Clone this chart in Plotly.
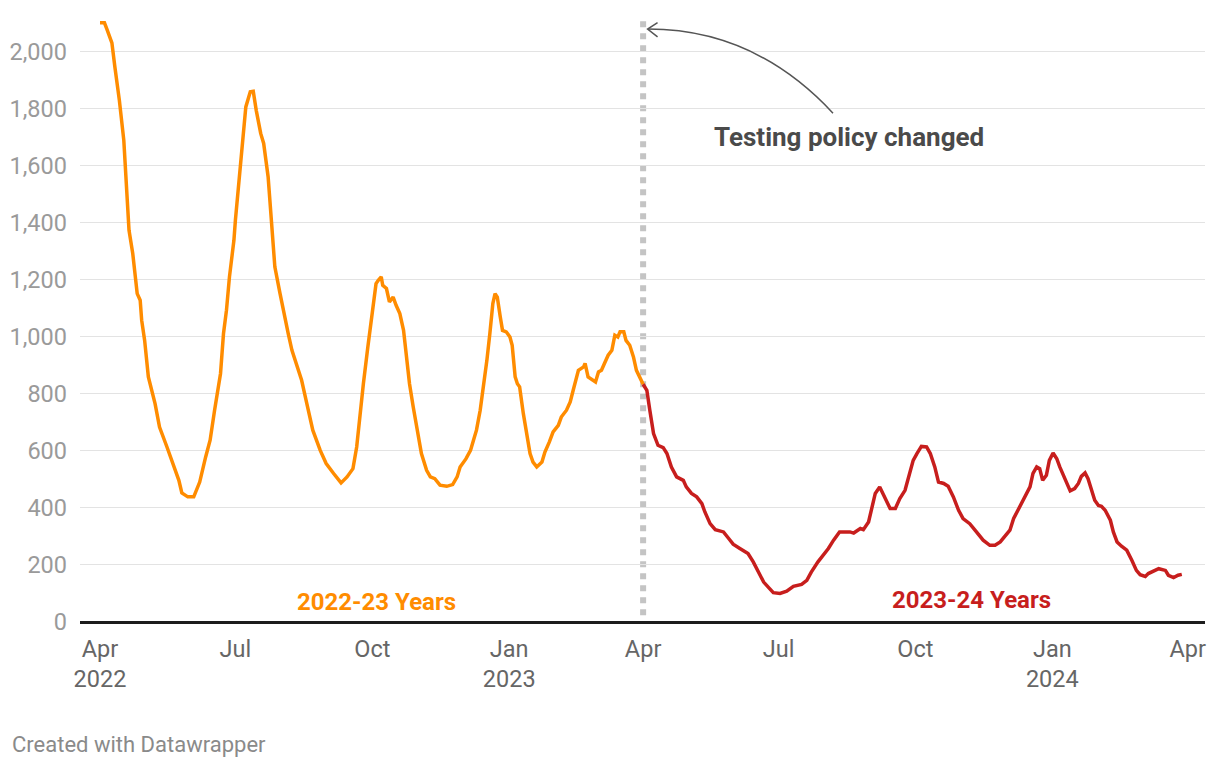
import pandas as pd
import plotly.graph_objects as go

START = pd.Timestamp("2022-04-01")

# Days since 2022-04-01 and values
days_2022_23 = [0, 3, 4.5, 8, 10, 13, 16, 18, 19.5, 22, 25, 27, 28, 30, 32.5, 37, 40, 45, 49, 53, 55, 59, 63,
                67, 71, 74, 77, 81, 83, 85, 87, 90, 91, 94, 96, 98, 101, 103, 105, 108, 110, 113, 115.5,
                117.5, 121, 124, 126.5, 129, 132, 135.5, 139, 143, 148, 152, 157, 162, 166, 170, 172.5,
                176, 177, 180, 182.5, 185.5, 187, 189, 190, 192.5, 194.5, 197, 199, 201.5, 204, 206, 208,
                210.5, 214, 216, 219.5, 222, 225, 228.5, 233, 237, 240, 242, 246, 249, 251, 253, 255.5,
                257.5, 260, 262, 264, 265.5, 267, 269, 270.5, 273, 275.5, 277, 279, 280.5, 282, 284.5, 287,
                289, 291, 293.5, 297, 299, 302, 304.5, 308, 310, 313.5, 316, 318, 321.5, 325, 326, 328, 333,
                335, 337, 339, 341.5, 344, 346, 348, 349.5, 352, 353.5, 356, 358.5, 360.5, 363, 365]
values_2022_23 = [2102, 2102, 2082, 2032, 1947, 1831, 1690, 1526, 1374, 1293, 1152, 1129, 1059, 988, 860, 766,
                  684, 614, 556, 497, 453, 439, 439, 491, 579, 638, 743, 872, 1012, 1094, 1211, 1339, 1410,
                  1573, 1714, 1807, 1860, 1862, 1795, 1714, 1679, 1561, 1386, 1246, 1152, 1070, 1012, 953,
                  907, 848, 766, 673, 602, 556, 521, 488, 509, 538, 614, 801, 836, 965, 1070, 1187, 1199,
                  1211, 1181, 1170, 1123, 1140, 1111, 1082, 1023, 918, 836, 754, 649, 591, 532, 509, 503,
                  480, 476, 482, 509, 544, 573, 602, 638, 673, 743, 813, 918, 1012, 1117, 1152, 1140, 1070,
                  1023, 1018, 1000, 971, 860, 836, 825, 731, 649, 591, 561, 544, 561, 596, 632, 667, 690,
                  719, 743, 772, 813, 883, 895, 907, 860, 842, 877, 883, 907, 936, 953, 1006, 1000, 1018,
                  1018, 988, 971, 930, 883, 854, 834]

days_2023_24 = [365, 367.5, 369.5, 372, 375, 378.5, 381, 384, 387.5, 392, 394, 397.5, 401, 404.5, 406.5, 410,
                413.5, 419, 422.5, 425.5, 430, 435.5, 439, 442.5, 446, 450, 452.5, 457, 461.5, 466, 471.5,
                475, 478, 482.5, 486, 489.5, 493, 497, 504, 506.5, 511, 513, 516.5, 518.5, 521, 524, 527.5,
                531, 534.5, 537.5, 541, 544.5, 546.5, 549, 552, 555.5, 558, 561, 563.5, 567, 570, 573.5,
                577, 580, 584.5, 589, 593.5, 598, 601.5, 605, 608, 611.5, 614, 617, 619.5, 623, 625, 627,
                629.5, 631.5, 633.5, 636, 638, 640.5, 643, 645, 647.5, 650, 652, 655, 657.5, 659.5, 662,
                664, 666.5, 668.5, 671, 673, 675.5, 679, 681, 683.5, 686.5, 690, 693.5, 696.5, 699, 702.5,
                704.5, 708, 711.5, 716, 718, 721.5, 724.5, 727]
values_2023_24 = [834, 813, 743, 661, 620, 612, 591, 544, 509, 497, 474, 451, 439, 415, 386, 345, 324, 316,
                  293, 273, 258, 240, 211, 175, 140, 117, 103, 100, 108, 125, 132, 146, 175, 211, 234, 258,
                  287, 316, 316, 312, 328, 324, 351, 392, 451, 474, 439, 398, 398, 433, 462, 532, 567, 591,
                  616, 614, 591, 544, 491, 486, 476, 439, 392, 363, 345, 316, 287, 269, 269, 281, 298, 322,
                  363, 392, 418, 456, 474, 521, 544, 538, 497, 515, 567, 593, 573, 544, 515, 480, 460, 468,
                  486, 511, 523, 503, 462, 427, 409, 406, 392, 357, 316, 281, 266, 252, 216, 181, 166, 160,
                  170, 179, 187, 181, 164, 156, 164, 167]

tick_dates = ["2022-04-01", "2022-07-01", "2022-10-01", "2023-01-01", "2023-04-01",
              "2023-07-01", "2023-10-01", "2024-01-01", "2024-04-01"]
tick_text = ["Apr<br>2022", "Jul", "Oct", "Jan<br>2023", "Apr", "Jul", "Oct", "Jan<br>2024", "Apr"]
y_ticks = [0, 200, 400, 600, 800, 1000, 1200, 1400, 1600, 1800, 2000]

POLICY_DATE = "2023-04-01"
ORANGE = "#ff8c00"
RED = "#c71e1d"


def to_dates(days):
    return START + pd.to_timedelta(pd.Series(days, dtype=float), unit="D")


def pstr(day):
    t = START + pd.to_timedelta(day, unit="D")
    return t.strftime("%Y-%m-%d_%H:%M:%S")


def dstr(day):
    return pstr(day).replace("_", " ")


fig = go.Figure()
fig.add_trace(go.Scatter(x=to_dates(days_2022_23), y=values_2022_23, mode="lines",
                         line=dict(color=ORANGE, width=3.5), hoverinfo="skip"))
fig.add_trace(go.Scatter(x=to_dates(days_2023_24), y=values_2023_24, mode="lines",
                         line=dict(color=RED, width=3.5), hoverinfo="skip"))

# vertical dotted line at testing policy change
fig.add_shape(type="line", xref="x", yref="y", x0=POLICY_DATE, x1=POLICY_DATE, y0=2108, y1=0,
              line=dict(color="#c4c4c4", width=6, dash="6px,6px"), layer="below")

# curved arrow
arrow_path = f"M {pstr(492.6)},1785 Q {pstr(440.2)},2080 {pstr(368.3)},2080"
fig.add_shape(type="path", xref="x", yref="y", path=arrow_path,
              line=dict(color="#555555", width=1.5))
head_path = f"M {pstr(374.7)},2103 L {pstr(368.0)},2080 L {pstr(374.7)},2053"
fig.add_shape(type="path", xref="x", yref="y", path=head_path,
              line=dict(color="#555555", width=1.5))

fig.add_annotation(x=dstr(503.4), y=1701, xref="x", yref="y",
                   text="<b>Testing policy changed</b>", showarrow=False,
                   font=dict(family="Roboto", size=26, color="#4a4a4a"))
fig.add_annotation(x=dstr(185.5), y=70, xref="x", yref="y",
                   text="<b>2022-23 Years</b>", showarrow=False,
                   font=dict(family="Roboto", size=24, color=ORANGE))
fig.add_annotation(x=dstr(586), y=76, xref="x", yref="y",
                   text="<b>2023-24 Years</b>", showarrow=False,
                   font=dict(family="Roboto", size=24, color=RED))
fig.add_annotation(x=-0.0622, y=-0.203, xref="paper", yref="paper", xanchor="left", yanchor="middle",
                   text="Created with Datawrapper", showarrow=False,
                   font=dict(family="Roboto", size=22, color="#8a8a8a"))

# page body has an 8px margin, so the figure is reduced and margins compensated
fig.update_layout(
    width=1212, height=760,
    margin=dict(l=72, r=15, t=10, b=146, autoexpand=False),
    plot_bgcolor="white", paper_bgcolor="white",
    showlegend=False,
    font=dict(family="Roboto"),
    xaxis=dict(
        type="date", automargin=False,
        range=[dstr(-13.44), dstr(742.6)],
        tickvals=tick_dates, ticktext=tick_text,
        showgrid=False, zeroline=False, showline=False, ticks="",
        ticklabelstandoff=10,
        tickfont=dict(family="Roboto", size=23.5, color="#666666"),
    ),
    yaxis=dict(
        automargin=False,
        range=[0, 2119],
        tickvals=y_ticks, tickformat=",",
        showgrid=True, gridcolor="#e3e3e3", gridwidth=1.3,
        zeroline=True, zerolinecolor="#1d1d1d", zerolinewidth=2.5,
        showline=False, ticks="",
        ticklabelstandoff=12,
        tickfont=dict(family="Roboto", size=23.5, color="#9a9a9a"),
    ),
)

fig.write_html("out.html")
